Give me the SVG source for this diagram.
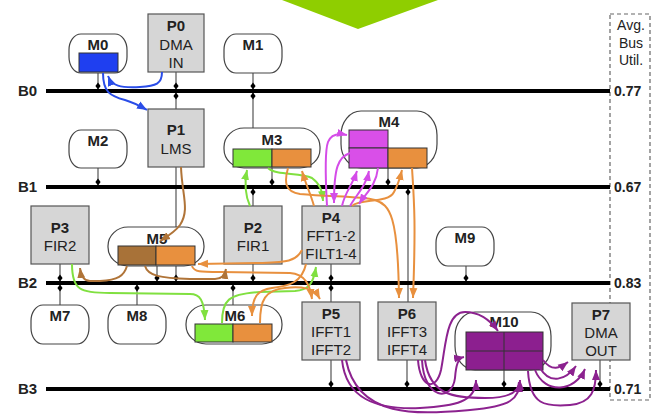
<svg xmlns="http://www.w3.org/2000/svg" width="656" height="417" viewBox="0 0 656 417">
<style>
text{font-family:"Liberation Sans",Arial,sans-serif;fill:#222;text-anchor:middle}
.t{font-size:15px}
.b{font-weight:bold}
.bus{stroke:#000;stroke-width:4}
.bl{font-size:15px;font-weight:bold;text-anchor:start}
.val{font-size:14px;font-weight:bold;text-anchor:start}
.u{font-size:14px}
.proc{fill:#d6d6d6;stroke:#555;stroke-width:1.2}
.mem{fill:#fff;stroke:#444;stroke-width:1.2}
.tap{stroke:#555;stroke-width:1.2;fill:none}
.cell{stroke:#333;stroke-width:1}
.c{fill:none;stroke-width:2}
.blue{stroke:#2a4de8}
.green{stroke:#80e040}
.orange{stroke:#e8903e}
.brown{stroke:#b07438}
.mag{stroke:#d44ce8}
.pur{stroke:#8c228f}
</style>
<defs>
<path id="dot" d="M0,-3.5 L2.6,0 L0,3.5 L-2.6,0Z" fill="#000"/>
<marker id="aB" markerUnits="userSpaceOnUse" markerWidth="11" markerHeight="10" refX="10" refY="5" orient="auto"><path d="M0,1 L10,5 L0,9Z" fill="#2a4de8"/></marker>
<marker id="aG" markerUnits="userSpaceOnUse" markerWidth="11" markerHeight="10" refX="10" refY="5" orient="auto"><path d="M0,1 L10,5 L0,9Z" fill="#80e040"/></marker>
<marker id="aO" markerUnits="userSpaceOnUse" markerWidth="11" markerHeight="10" refX="10" refY="5" orient="auto"><path d="M0,1 L10,5 L0,9Z" fill="#e8903e"/></marker>
<marker id="aR" markerUnits="userSpaceOnUse" markerWidth="11" markerHeight="10" refX="10" refY="5" orient="auto"><path d="M0,1 L10,5 L0,9Z" fill="#b07438"/></marker>
<marker id="aM" markerUnits="userSpaceOnUse" markerWidth="11" markerHeight="10" refX="10" refY="5" orient="auto"><path d="M0,1 L10,5 L0,9Z" fill="#d44ce8"/></marker>
<marker id="aP" markerUnits="userSpaceOnUse" markerWidth="11" markerHeight="10" refX="10" refY="5" orient="auto"><path d="M0,1 L10,5 L0,9Z" fill="#8c228f"/></marker>
</defs>
<rect width="656" height="417" fill="#fff"/>
<polygon points="282,0 438,0 358,29" fill="#8fce00"/>

<g id="util-box">
<rect x="610" y="14" width="40" height="386" fill="none" stroke="#666" stroke-width="1.2" stroke-dasharray="4 3"/>
<text class="u" x="631" y="30">Avg.</text>
<text class="u" x="631" y="47.5">Bus</text>
<text class="u" x="631" y="65">Util.</text>
<text class="val" x="614" y="96">0.77</text>
<text class="val" x="614" y="192">0.67</text>
<text class="val" x="614" y="288">0.83</text>
<text class="val" x="614" y="394">0.71</text>
</g>

<g id="taps">
<path class="tap" d="M98,73V91 M176,72V109 M253,73V128 M98,168V187 M176,167V283 M272,168V187 M253,187V206 M388,168V187 M408,187V302 M60,264V305 M157,266V283 M253,264V283 M137,283V305 M233,283V305 M331,264V302 M466,266V283 M331,360V389 M407,360V389 M504,370V389 M600,360V389"/>
</g>

<g id="buses">
<line class="bus" x1="46" y1="91" x2="610" y2="91"/>
<line class="bus" x1="46" y1="187" x2="610" y2="187"/>
<line class="bus" x1="46" y1="283" x2="610" y2="283"/>
<line class="bus" x1="46" y1="389" x2="610" y2="389"/>
<text class="bl" x="18" y="96">B0</text>
<text class="bl" x="18" y="192">B1</text>
<text class="bl" x="18" y="288">B2</text>
<text class="bl" x="18" y="394">B3</text>
</g>

<g id="dots">
<use href="#dot" x="98" y="86"/><use href="#dot" x="176" y="86"/><use href="#dot" x="253" y="86"/>
<use href="#dot" x="176" y="96"/><use href="#dot" x="253" y="96"/>
<use href="#dot" x="98" y="182"/><use href="#dot" x="272" y="182"/><use href="#dot" x="388" y="182"/>
<use href="#dot" x="253" y="192"/><use href="#dot" x="408" y="192"/>
<use href="#dot" x="60" y="278"/><use href="#dot" x="157" y="278"/><use href="#dot" x="176" y="278"/><use href="#dot" x="253" y="278"/><use href="#dot" x="331" y="278"/><use href="#dot" x="466" y="278"/>
<use href="#dot" x="60" y="288"/><use href="#dot" x="137" y="288"/><use href="#dot" x="233" y="288"/><use href="#dot" x="331" y="288"/>
<use href="#dot" x="331" y="384"/><use href="#dot" x="407" y="384"/><use href="#dot" x="504" y="384"/><use href="#dot" x="600" y="384"/>
</g>

<g id="M0"><rect class="mem" x="69" y="34" width="58" height="39" rx="12" ry="16"/><text class="t b" x="98" y="50">M0</text><rect class="cell" x="79" y="53" width="39" height="19" fill="#1f3ff0"/></g>
<g id="P0"><rect class="proc" x="148" y="14" width="56" height="58"/><text class="t b" x="176" y="31">P0</text><text class="t" x="176" y="49.5">DMA</text><text class="t" x="176" y="68">IN</text></g>
<g id="M1"><rect class="mem" x="224" y="34" width="58" height="39" rx="12" ry="16"/><text class="t b" x="253" y="50">M1</text></g>
<g id="P1"><rect class="proc" x="148" y="109" width="56" height="58"/><text class="t b" x="176" y="135">P1</text><text class="t" x="176" y="154">LMS</text></g>
<g id="M2"><rect class="mem" x="69" y="130" width="58" height="38" rx="12" ry="16"/><text class="t b" x="98" y="146">M2</text></g>
<g id="M3"><rect class="mem" x="224" y="128" width="96" height="40" rx="20" ry="19"/><text class="t b" x="272" y="145">M3</text><rect class="cell" x="233" y="149" width="39" height="18" fill="#80e83a"/><rect class="cell" x="272" y="149" width="39" height="18" fill="#e8903e"/></g>
<g id="M4"><rect class="mem" x="341" y="111" width="96" height="57" rx="20" ry="24"/><text class="t b" x="389" y="127">M4</text><rect class="cell" x="349" y="130" width="39" height="18" fill="#d94fe8"/><rect class="cell" x="349" y="148" width="39" height="20" fill="#d94fe8"/><rect class="cell" x="388" y="148" width="39" height="20" fill="#e8903e"/></g>
<g id="P3"><rect class="proc" x="31" y="206" width="58" height="58"/><text class="t b" x="60" y="233">P3</text><text class="t" x="60" y="251">FIR2</text></g>
<g id="M5"><rect class="mem" x="108" y="227" width="96" height="39" rx="20" ry="19"/><text class="t b" x="157" y="244">M5</text><rect class="cell" x="118" y="246" width="38" height="19" fill="#a87238"/><rect class="cell" x="156" y="246" width="39" height="19" fill="#e8903e"/></g>
<g id="P2"><rect class="proc" x="224" y="206" width="58" height="58"/><text class="t b" x="253" y="233">P2</text><text class="t" x="253" y="251">FIR1</text></g>
<g id="P4"><rect class="proc" x="302" y="206" width="58" height="58"/><text class="t b" x="331" y="223">P4</text><text class="t" x="331" y="241">FFT1-2</text><text class="t" x="331" y="259">FILT1-4</text></g>
<g id="M9"><rect class="mem" x="436" y="227" width="58" height="39" rx="12" ry="16"/><text class="t b" x="465" y="243">M9</text></g>
<g id="M7"><rect class="mem" x="31" y="305" width="58" height="39" rx="12" ry="16"/><text class="t b" x="60" y="321">M7</text></g>
<g id="M8"><rect class="mem" x="108" y="305" width="58" height="39" rx="12" ry="16"/><text class="t b" x="137" y="321">M8</text></g>
<g id="M6"><rect class="mem" x="186" y="305" width="96" height="39" rx="20" ry="19"/><text class="t b" x="235" y="321">M6</text><rect class="cell" x="195" y="324" width="38" height="18" fill="#80e83a"/><rect class="cell" x="233" y="324" width="39" height="18" fill="#e8903e"/></g>
<g id="P5"><rect class="proc" x="302" y="302" width="58" height="58"/><text class="t b" x="331" y="319">P5</text><text class="t" x="331" y="337">IFFT1</text><text class="t" x="331" y="355">IFFT2</text></g>
<g id="P6"><rect class="proc" x="378" y="302" width="58" height="58"/><text class="t b" x="407" y="319">P6</text><text class="t" x="407" y="337">IFFT3</text><text class="t" x="407" y="355">IFFT4</text></g>
<g id="M10"><rect class="mem" x="455" y="312" width="96" height="58" rx="20" ry="24"/><text class="t b" x="504" y="327">M10</text><rect class="cell" x="466" y="332" width="77" height="38" fill="#8c1f8f"/><path d="M504,332V370 M466,351H543" stroke="#333" stroke-width="1"/></g>
<g id="P7"><rect class="proc" x="572" y="303" width="58" height="57"/><text class="t b" x="601" y="320">P7</text><text class="t" x="601" y="338">DMA</text><text class="t" x="601" y="356">OUT</text></g>

<g id="connectors">
<path class="c blue" marker-end="url(#aB)" d="M162,72 C162,84 156,86 140,87 C120,88 112,86 108,76"/>
<path class="c blue" marker-end="url(#aB)" d="M103,73 C103,92 110,96 125,100 C135,103 140,106 147,110"/>
<path class="c brown" marker-end="url(#aR)" d="M181,167 C182,195 190,210 180,225 C175,232 168,236 160,241"/>
<path class="c green" marker-end="url(#aG)" d="M250,206 C245,195 244,185 247,170"/>
<path class="c green" marker-end="url(#aG)" d="M268,168 C276,176 300,172 312,178 C320,184 322,190 323,201"/>
<path class="c green" marker-end="url(#aG)" d="M72,264 C72,290 80,293 110,293 L190,294 C200,294 204,300 205,320"/>
<path class="c green" marker-end="url(#aG)" d="M222,323 C222,300 228,294 260,292 L295,291 C308,290 313,285 316,267"/>
<path class="c orange" marker-end="url(#aO)" d="M314,206 C310,192 306,185 302,171"/>
<path class="c orange" marker-end="url(#aO)" d="M288,168 C284,182 285,192 300,194 C330,197 360,196 375,200 C390,205 398,215 399,298"/>
<path class="c orange" marker-end="url(#aO)" d="M352,206 C360,198 388,204 394,192 C398,185 400,178 402,170"/>
<path class="c orange" marker-end="url(#aO)" d="M412,168 C414,200 416,220 413,298"/>
<path class="c orange" marker-end="url(#aO)" d="M302,250 C296,262 285,262 260,263 L198,264"/>
<path class="c orange" marker-end="url(#aO)" d="M192,266 C194,272 200,272 220,272 L290,273 C305,274 310,285 312,299"/>
<path class="c orange" marker-end="url(#aO)" d="M306,264 C302,282 290,286 272,288 C258,290 252,296 252,316"/>
<path class="c orange" marker-end="url(#aO)" d="M260,323 C260,300 265,290 285,288 C302,286 314,288 320,299"/>
<path class="c brown" marker-end="url(#aR)" d="M127,266 C124,276 118,280 100,281 L90,281 C84,281 81,276 80,268"/>
<path class="c brown" marker-end="url(#aR)" d="M145,266 C148,276 160,278 190,279 L215,279 C222,279 225,275 226,269"/>
<path class="c mag" marker-end="url(#aM)" d="M327,206 C325,170 325,150 328,142 C331,134 338,133 347,135"/>
<path class="c mag" marker-end="url(#aM)" d="M350,153 C338,157 334,168 334,203"/>
<path class="c mag" marker-end="url(#aM)" d="M342,206 C345,192 352,186 357,171"/>
<path class="c mag" marker-end="url(#aM)" d="M350,206 C357,194 366,186 369,171"/>
<path class="c mag" marker-end="url(#aM)" d="M378,168 C376,186 366,193 359,204"/>
<path class="c pur" marker-end="url(#aP)" d="M418,360 C420,388 436,392 441,370 C446,345 446,312 465,312 C480,312 490,320 498,331"/>
<path class="c pur" marker-end="url(#aP)" d="M422,360 C424,400 452,402 455,378 C456,365 458,358 464,357"/>
<path class="c pur" marker-end="url(#aP)" d="M342,360 C346,398 375,410 420,408 C455,406 476,402 476,380"/>
<path class="c pur" marker-end="url(#aP)" d="M346,360 C358,420 420,414 470,410 C510,406 520,400 520,380"/>
<path class="c pur" marker-end="url(#aP)" d="M425,360 C430,396 455,398 485,398 C510,398 519,392 519,382"/>
<path class="c pur" marker-end="url(#aP)" d="M543,360 C552,372 560,368 568,362"/>
<path class="c pur" marker-end="url(#aP)" d="M540,368 C550,385 566,380 576,366"/>
<path class="c pur" marker-end="url(#aP)" d="M535,370 C545,395 575,392 585,369"/>
<path class="c pur" marker-end="url(#aP)" d="M528,371 C530,405 545,407 570,405 C592,403 596,390 596,370"/>
</g>
</svg>
